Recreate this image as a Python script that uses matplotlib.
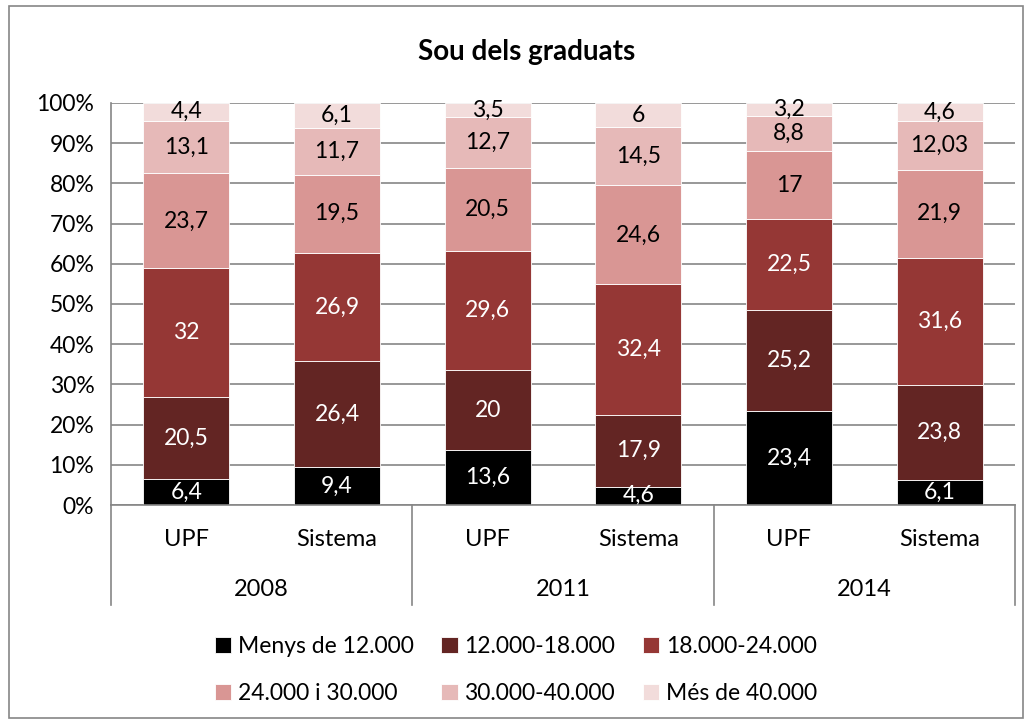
import matplotlib.pyplot as plt
import numpy as np
from matplotlib.patches import Rectangle

plt.rcParams['font.family'] = ['Lato', 'DejaVu Sans']

years = ['2008', '2011', '2014']
groups = ['UPF', 'Sistema', 'UPF', 'Sistema', 'UPF', 'Sistema']
series = ['Menys de 12.000', '12.000-18.000', '18.000-24.000',
          '24.000 i 30.000', '30.000-40.000', 'Més de 40.000']
menys_12 = [6.4, 9.4, 13.6, 4.6, 23.4, 6.1]
de_12_18 = [20.5, 26.4, 20, 17.9, 25.2, 23.8]
de_18_24 = [32, 26.9, 29.6, 32.4, 22.5, 31.6]
de_24_30 = [23.7, 19.5, 20.5, 24.6, 17, 21.9]
de_30_40 = [13.1, 11.7, 12.7, 14.5, 8.8, 12.03]
mes_40 = [4.4, 6.1, 3.5, 6, 3.2, 4.6]

colors = ['#000000', '#632523', '#953735', '#D99694', '#E6B9B8', '#F2DCDB']
text_colors = ['white', 'white', 'white', 'black', 'black', 'black']


def fmt(v):
    s = ('%g' % v).replace('.', ',')
    return s


def main():
    data = np.array([menys_12, de_12_18, de_18_24, de_24_30, de_30_40, mes_40])
    totals = data.sum(axis=0)
    pct = data / totals * 100

    fig = plt.figure(figsize=(10.32, 7.24), dpi=100)
    ax = fig.add_axes([111 / 1032, 1 - 505 / 724, (1015 - 111) / 1032, (505 - 103) / 724])

    x = np.arange(len(groups))
    bottom = np.zeros(len(groups))
    handles = []
    for i in range(len(series)):
        b = ax.bar(x, pct[i], 0.57, bottom=bottom, color=colors[i],
                   edgecolor='white', linewidth=0.6, label=series[i], zorder=3)
        handles.append(b)
        for j in range(len(groups)):
            ax.text(x[j], bottom[j] + pct[i][j] / 2, fmt(data[i][j]),
                    ha='center', va='center', fontsize=16.5, color=text_colors[i], zorder=4)
        bottom += pct[i]

    ax.set_xlim(-0.5, 5.5)
    ax.set_ylim(0, 100)
    ax.set_yticks(range(0, 101, 10))
    ax.set_yticklabels(['%d%%' % v for v in range(0, 101, 10)], fontsize=16.5)
    ax.tick_params(axis='y', length=0, pad=12)
    ax.set_xticks([])
    ax.grid(axis='y', color='#868686', linewidth=1.2, zorder=0)
    for s in ['top', 'right', 'bottom']:
        ax.spines[s].set_visible(False)
    ax.spines['left'].set_color('#868686')
    ax.spines['left'].set_linewidth(1.2)

    # category axis (two levels)
    trans = ax.get_xaxis_transform()
    low = -100 / 402
    for xv in [-0.5, 1.5, 3.5, 5.5]:
        ax.plot([xv, xv], [0, low], color='#868686', lw=1.2, transform=trans, clip_on=False)
    ax.plot([-0.5, 5.5], [0, 0], color='#868686', lw=1.2, transform=trans, clip_on=False, zorder=5)
    for j, g in enumerate(groups):
        ax.text(x[j], -35 / 402, g, ha='center', va='center', fontsize=17, transform=trans)
    for k, yr in enumerate(years):
        ax.text(2 * k + 0.5, -85 / 402, yr, ha='center', va='center', fontsize=17, transform=trans)

    fig.text(0.51, 1 - 52 / 724, 'Sou dels graduats', ha='center', va='center',
             fontsize=20, fontweight='bold')

    order = [0, 3, 1, 4, 2, 5]
    fig.legend([handles[i] for i in order], [series[i] for i in order],
               ncol=3, loc='center', bbox_to_anchor=(0.5, 1 - 670 / 724),
               frameon=False, fontsize=16.5, handlelength=0.7, handleheight=0.7,
               handletextpad=0.3, columnspacing=1.2, labelspacing=1.1)

    fig.patches.append(Rectangle((0.009, 0.008), 0.982, 0.984, transform=fig.transFigure,
                                 fill=False, edgecolor='#868686', linewidth=1.2))

    fig.savefig('out.png', dpi=100)


if __name__ == '__main__':
    main()
